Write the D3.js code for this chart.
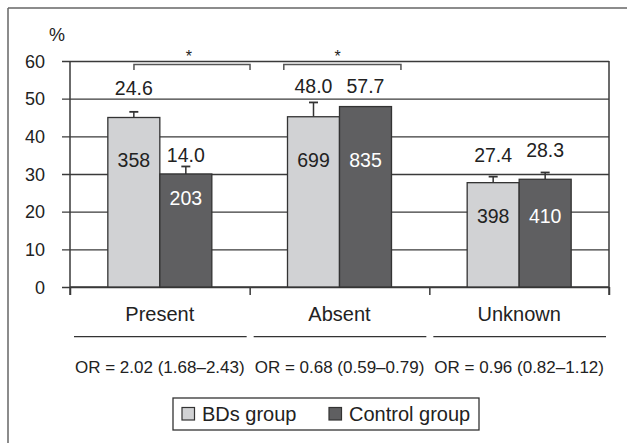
<!DOCTYPE html>
<html><head><meta charset="utf-8">
<script src="https://cdn.jsdelivr.net/npm/d3@7"></script>
<style>
html,body{margin:0;padding:0;background:#fff;}
svg{display:block;font-family:"Liberation Sans",Arial,sans-serif;}
</style></head>
<body><svg id="c" width="627" height="443"></svg>
<script>
// ---- data ----
const categories = ["Present", "Absent", "Unknown"];
const groups = ["BDs group", "Control group"];
const bdsValues = [45, 45.2, 27.7];
const controlValues = [30, 47.9, 28.6];
const bdsErrTop = [46.5, 49, 29.3];
const controlErrTop = [32, 47.9, 30.4];
const bdsTopLabels = ["24.6", "48.0", "27.4"];
const controlTopLabels = ["14.0", "57.7", "28.3"];
const bdsTopLabelAt = [51, 51.4, 33.3];
const controlTopLabelAt = [33.3, 51.4, 34.4];
const bdsN = ["358", "699", "398"];
const controlN = ["203", "835", "410"];
const bdsNAt = [31.9, 31.9, 17.1];
const controlNAt = [21.8, 31.9, 17.1];
const orLabels = ["OR = 2.02 (1.68\u20132.43)", "OR = 0.68 (0.59\u20130.79)", "OR = 0.96 (0.82\u20131.12)"];
const yTicks = [0, 10, 20, 30, 40, 50, 60];
// significance brackets in category-index units
const brackets = [{from: 0.356, to: 1.002, star: 0.662}, {from: 1.19, to: 1.842, star: 1.49}];

// ---- layout ----
const svg = d3.select("#c");
const L = 70, R = 609, T = 61, B = 287;
const colors = {"BDs group": "#d1d2d4", "Control group": "#5f5f61"};
const ink = "#222";
const lineCol = "#3a3a3a";

const y = d3.scaleLinear().domain([0, 60]).range([B, T]);
const x = d3.scaleBand().domain(categories).range([L, R]).padding(0);
const xi = d3.scaleLinear().domain([0, 3]).range([L, R]);
const bw = x.bandwidth();
const barW = 52;
const xs = d3.scaleBand().domain(groups).range([bw / 2 - barW, bw / 2 + barW]);

// outer frame
svg.append("line").attr("x1", 8).attr("x2", 627).attr("y1", 8).attr("y2", 8).attr("stroke", "#666").attr("stroke-width", 1.5);
svg.append("line").attr("x1", 8).attr("x2", 8).attr("y1", 8).attr("y2", 443).attr("stroke", "#666").attr("stroke-width", 1.5);

// gridlines + y axis
const yAxis = d3.axisLeft(y).tickValues(yTicks).tickSize(-(R - L) - 8).tickPadding(0).tickFormat(d3.format("d"));
const gy = svg.append("g").attr("transform", `translate(${L},0)`).call(yAxis);
gy.select(".domain").remove();
gy.selectAll(".tick line").attr("x1", -8).attr("x2", R - L).attr("stroke", lineCol).attr("stroke-width", 1.3);
gy.selectAll(".tick text").attr("x", -25).attr("dy", "0.35em").attr("fill", ink)
  .style("font-size", "18px").style("font-family", "Liberation Sans, Arial, sans-serif");

// y axis line and right border
svg.append("line").attr("x1", L).attr("x2", L).attr("y1", T).attr("y2", B + 8).attr("stroke", lineCol).attr("stroke-width", 1.5);
svg.append("line").attr("x1", R).attr("x2", R).attr("y1", T).attr("y2", B + 8).attr("stroke", lineCol).attr("stroke-width", 1.5);

// x axis ticks at category boundaries
const xAxis = d3.axisBottom(xi).tickValues([0, 1, 2, 3]).tickSize(8).tickFormat("");
const gx = svg.append("g").attr("transform", `translate(0,${B})`).call(xAxis);
gx.select(".domain").attr("stroke", lineCol).attr("stroke-width", 1.5).attr("d", `M${L},0H${R}`);
gx.selectAll(".tick line").attr("stroke", lineCol).attr("stroke-width", 1.5);

// "%" label
svg.append("text").attr("x", 57).attr("y", 41).attr("text-anchor", "middle").attr("fill", ink)
  .style("font-size", "18px").text("%");

// bars
const rows = categories.map((c, i) => ({
  cat: c,
  items: [
    {g: groups[0], v: bdsValues[i], e: bdsErrTop[i], top: bdsTopLabels[i], topAt: bdsTopLabelAt[i], n: bdsN[i], nAt: bdsNAt[i]},
    {g: groups[1], v: controlValues[i], e: controlErrTop[i], top: controlTopLabels[i], topAt: controlTopLabelAt[i], n: controlN[i], nAt: controlNAt[i]}
  ]
}));

const cg = svg.selectAll("g.cat").data(rows).join("g").attr("class", "cat")
  .attr("transform", d => `translate(${x(d.cat)},0)`);

const it = cg.selectAll("g.it").data(d => d.items).join("g").attr("class", "it");

// error bars (drawn before bars)
it.filter(d => d.e > d.v).append("line")
  .attr("x1", d => xs(d.g) + barW / 2).attr("x2", d => xs(d.g) + barW / 2)
  .attr("y1", d => y(d.v)).attr("y2", d => y(d.e)).attr("stroke", "#333").attr("stroke-width", 1.5);
it.filter(d => d.e > d.v).append("line")
  .attr("x1", d => xs(d.g) + barW / 2 - 4.5).attr("x2", d => xs(d.g) + barW / 2 + 4.5)
  .attr("y1", d => y(d.e)).attr("y2", d => y(d.e)).attr("stroke", "#333").attr("stroke-width", 1.8);

it.append("rect")
  .attr("x", d => xs(d.g)).attr("width", barW)
  .attr("y", d => y(d.v)).attr("height", d => y(0) - y(d.v))
  .attr("fill", d => colors[d.g]).attr("stroke", "#333").attr("stroke-width", 1.3);

it.append("text")
  .attr("x", d => xs(d.g) + barW / 2).attr("y", d => y(d.topAt))
  .attr("text-anchor", "middle").attr("fill", ink).style("font-size", "19.5px")
  .text(d => d.top);

it.append("text")
  .attr("x", d => xs(d.g) + barW / 2).attr("y", d => y(d.nAt))
  .attr("text-anchor", "middle").attr("fill", d => d.g === groups[0] ? ink : "#fff").style("font-size", "19.5px")
  .text(d => d.n);

// significance brackets
const bg = svg.selectAll("g.br").data(brackets).join("g").attr("class", "br");
bg.append("path")
  .attr("d", d => `M${xi(d.from)},${y(57.6)}V${y(59.1)}H${xi(d.to)}V${y(57.6)}`)
  .attr("fill", "none").attr("stroke", "#555").attr("stroke-width", 1.5);
bg.append("text").attr("x", d => xi(d.star)).attr("y", y(59.8))
  .attr("text-anchor", "middle").attr("fill", ink).style("font-size", "16px").text("*");

// category labels, underline, OR text
const lg = svg.selectAll("g.lab").data(categories).join("g").attr("class", "lab")
  .attr("transform", d => `translate(${x(d)},0)`);
lg.append("text").attr("x", bw / 2).attr("y", 320.5).attr("text-anchor", "middle")
  .attr("fill", ink).style("font-size", "20px").text(d => d);
lg.append("line").attr("x1", 4).attr("x2", bw - 3).attr("y1", 336.7).attr("y2", 336.7)
  .attr("stroke", "#333").attr("stroke-width", 1.3);
lg.append("text").attr("x", bw / 2).attr("y", 372.5).attr("text-anchor", "middle")
  .attr("fill", ink).style("font-size", "17px").text((d, i) => orLabels[i]);

// legend
const leg = svg.append("g");
leg.append("rect").attr("x", 173).attr("y", 398).attr("width", 306).attr("height", 32)
  .attr("fill", "#fff").attr("stroke", "#333").attr("stroke-width", 1.3);
const legX = [182, 329];
groups.forEach((g, i) => {
  leg.append("rect").attr("x", legX[i]).attr("y", 407.5).attr("width", 12.5).attr("height", 12.5)
    .attr("fill", colors[g]).attr("stroke", "#333").attr("stroke-width", 1.2);
  leg.append("text").attr("x", legX[i] + 20).attr("y", 420.5).attr("fill", ink)
    .style("font-size", "20px").text(g);
});
</script></body></html>
